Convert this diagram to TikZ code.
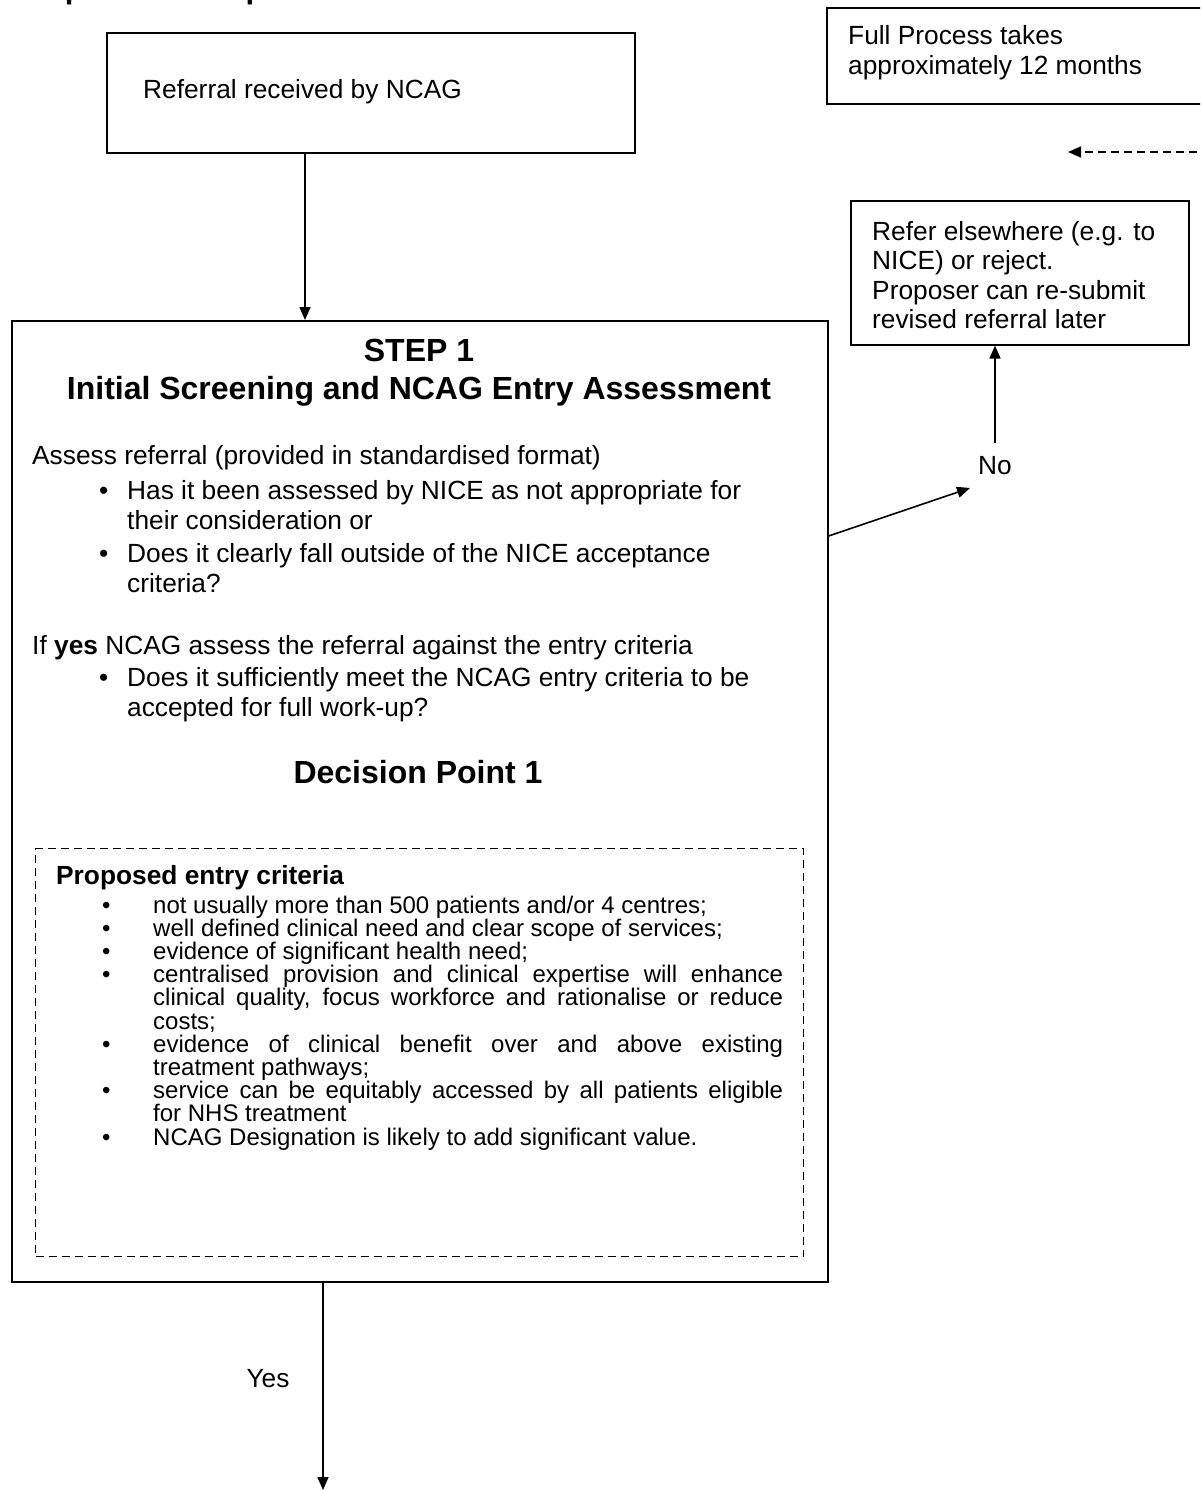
\documentclass[tikz,border=0pt]{standalone}
\usepackage{fontspec}
\setmainfont{Liberation Sans}
\usetikzlibrary{arrows.meta,calc}
\begin{document}
\begin{tikzpicture}[x=1pt,y=-1pt,
  box/.style={draw, line width=1.6pt, inner sep=0pt, anchor=north west},
  dbox/.style={draw, line width=1.4pt, dash pattern=on 8pt off 5pt, inner sep=0pt, anchor=north west},
  arr/.style={line width=1.6pt, -{Triangle[length=13pt,width=11pt]}},
  body/.style={inner sep=0pt, anchor=base west, font=\fontsize{26.3}{30}\selectfont},
  bodyc/.style={inner sep=0pt, anchor=base, font=\fontsize{26.3}{30}\selectfont},
  head/.style={inner sep=0pt, anchor=base, font=\bfseries\fontsize{32}{37}\selectfont},
  small/.style={inner sep=0pt, anchor=base west, font=\fontsize{24}{23.2}\selectfont},
]
\useasboundingbox (0,0) rectangle (1200,1490);
\begin{scope}
\clip (0,0) rectangle (1200,1490);
\node[inner sep=0pt, anchor=base west, font=\bfseries\fontsize{31}{36}\selectfont] (title) at (13,-1) {Proposed work process for NCAG assessment};
% boxes
\node[box, minimum width=528pt, minimum height=120pt] (ref) at (106,32) {};
\node[box, minimum width=390pt, minimum height=96pt] (full) at (826,7) {};
\node[box, minimum width=338pt, minimum height=144pt] (refer) at (850,200) {};
\node[box, minimum width=816pt, minimum height=961pt] (step1) at (11,320) {};
\node[dbox, minimum width=768pt, minimum height=408pt] (crit) at (35,848) {};
% texts
\node[body] (reft) at (143,99) {Referral received by NCAG};
\node[body] (full1) at (848,45) {Full Process takes};
\node[body] (full2) at (848,75) {approximately 12 months};
\node[body] (refer1) at (872,240) {Refer elsewhere (e.g. to};
\node[body] (refer2) at (872,269.5) {NICE) or reject.};
\node[body] (refer3) at (872,299) {Proposer can re-submit};
\node[body] (refer4) at (872,328.5) {revised referral later};
\node[bodyc] (no) at (995,474) {No};
\node[bodyc] (yes) at (268,1387) {Yes};
% step 1 contents
\node[head] (s1a) at (419,361) {STEP 1};
\node[head] (s1b) at (419,399) {Initial Screening and NCAG Entry Assessment};
\node[body] (l1) at (32,464) {Assess referral (provided in standardised format)};
\node[body] (b1) at (99,499) {•};
\node[body] (l2) at (127,499) {Has it been assessed by NICE as not appropriate for};
\node[body] (l3) at (127,529) {their consideration or};
\node[body] (b2) at (99,562) {•};
\node[body] (l4) at (127,562) {Does it clearly fall outside of the NICE acceptance};
\node[body] (l5) at (127,592) {criteria?};
\node[body] (l6) at (32,654) {If \textbf{yes} NCAG assess the referral against the entry criteria};
\node[body] (b3) at (99,686) {•};
\node[body] (l7) at (127,686) {Does it sufficiently meet the NCAG entry criteria to be};
\node[body] (l8) at (127,716) {accepted for full work-up?};
\node[head] (dp) at (418,783) {Decision Point 1};
% criteria
\node[body, font=\bfseries\fontsize{26.3}{30}\selectfont] (ch) at (56,884) {Proposed entry criteria};
\node[small] (cb1) at (102,913) {•};
\node[small] (c1) at (153,913) {not usually more than 500 patients and/or 4 centres;};
\node[small] (cb2) at (102,936.2) {•};
\node[small] (c2) at (153,936.2) {well defined clinical need and clear scope of services;};
\node[small] (cb3) at (102,959.4) {•};
\node[small] (c3) at (153,959.4) {evidence of significant health need;};
\node[small] (cb4) at (102,982.6) {•};
\node[small] (c4a) at (153,982.6) {\makebox[630pt][s]{centralised provision and clinical expertise will enhance}};
\node[small] (c4b) at (153,1005.8) {\makebox[630pt][s]{clinical quality, focus workforce and rationalise or reduce}};
\node[small] (c4c) at (153,1029) {costs;};
\node[small] (cb5) at (102,1052.2) {•};
\node[small] (c5a) at (153,1052.2) {\makebox[630pt][s]{evidence of clinical benefit over and above existing}};
\node[small] (c5b) at (153,1075.4) {treatment pathways;};
\node[small] (cb6) at (102,1098.6) {•};
\node[small] (c6a) at (153,1098.6) {\makebox[630pt][s]{service can be equitably accessed by all patients eligible}};
\node[small] (c6b) at (153,1121.8) {for NHS treatment};
\node[small] (cb7) at (102,1145) {•};
\node[small] (c7) at (153,1145) {NCAG Designation is likely to add significant value.};
% connectors
\coordinate (a1) at ($(ref.south west)+(199,0)$);
\draw[arr] (a1) -- (a1 |- step1.north);
\coordinate (a2) at ($(step1.south west)+(312,0)$);
\coordinate (yesend) at (323,1490);
\draw[arr] (a2) -- (yesend);
\coordinate (nostart) at ($(step1.north east)+(0,216)$);
\coordinate (noend) at (970,488);
\draw[arr] (nostart) -- (noend);
\draw[arr] ([yshift=13pt]no.north) -- (no.north |- refer.south);
\coordinate (dashstart) at (1210,152);
\coordinate (dashend) at (1068,152);
\draw[arr, dash pattern=on 8pt off 5pt] (dashstart) -- (dashend);
\end{scope}
\end{tikzpicture}
\end{document}
